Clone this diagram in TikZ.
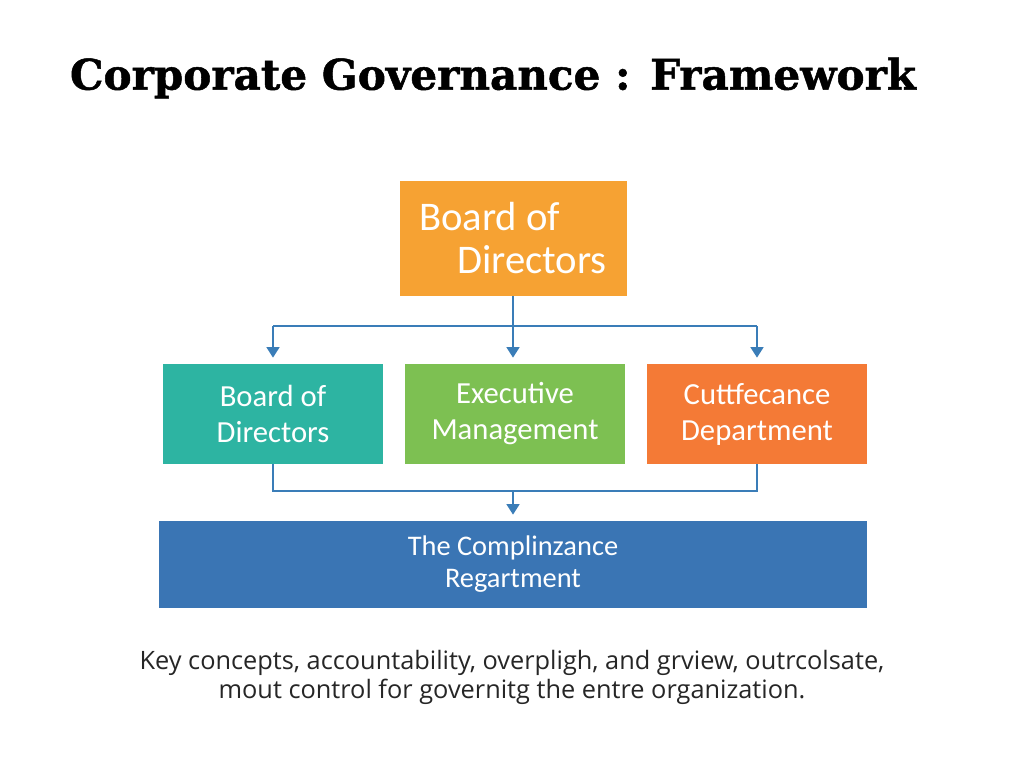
\documentclass[tikz,border=0pt]{standalone}
\usepackage{fontspec}
\setmainfont{Carlito}
\newfontfamily\titlefont[FakeBold=1.2]{DejaVu Serif}
\newfontfamily\capfont{Open Sans}
\usetikzlibrary{arrows.meta}
\definecolor{cTop}{HTML}{F6A233}
\definecolor{cTeal}{HTML}{2DB4A2}
\definecolor{cGreen}{HTML}{7DC052}
\definecolor{cOrange}{HTML}{F47A36}
\definecolor{cBlue}{HTML}{3A75B4}
\definecolor{cLine}{HTML}{3A7DB8}
\begin{document}
\begin{tikzpicture}[x=0.75pt,y=-0.75pt,
  box/.style={rectangle,inner sep=0pt,text=white,align=center},
  midbox/.style={box,minimum width=165pt,minimum height=75pt,font=\fontsize{23}{27}\selectfont},
  conn/.style={draw=cLine,line width=2pt},
  arr/.style={conn,-{Triangle[length=8pt,width=9.5pt]},shorten >=4.5pt}]
\useasboundingbox[fill=white] (0,0) rectangle (1024,768);
\node[font=\titlefont\bfseries\fontsize{31.6}{36}\selectfont] (title) at (493,78) {Corporate Governance : Framework};
\node[box,fill=cTop,minimum width=170.25pt,minimum height=86.25pt,align=left,font=\fontsize{30.5}{32.25}\selectfont] (top) at (513,238.5) {Board of\\\hspace*{28.5pt}Directors};
\node[midbox,fill=cTeal] (b1) at (273,414) {Board of\\Directors};
\node[midbox,fill=cGreen] (b2) at (515,414) {Executive\\Management};
\node[midbox,fill=cOrange] (b3) at (757,414) {Cuttfecance\\Department};
\node[box,fill=cBlue,minimum width=531pt,minimum height=65.25pt,font=\fontsize{21.3}{24}\selectfont] (bot) at (513,564.5) {The Complinzance\\Regartment};
\node[font=\capfont\fontsize{19}{21.75}\selectfont,align=center,text=black!85] (cap) at (512,677.5) {Key concepts, accountability, overpligh, and grview, outrcolsate,\\mout control for governitg the entre organization.};
\coordinate (j1) at (513,326);
\coordinate (j2) at (513,491);
\draw[conn] (top.south) -- (j1);
\draw[conn] (b1.north |- j1) -- (b3.north |- j1);
\draw[arr] (b1.north |- j1) -- (b1.north);
\draw[arr] (j1) -- (j1 |- b2.north);
\draw[arr] (b3.north |- j1) -- (b3.north);
\draw[conn] (b1.south) |- (j2) -| (b3.south);
\draw[arr] (j2) -- (bot.north);
\end{tikzpicture}
\end{document}
